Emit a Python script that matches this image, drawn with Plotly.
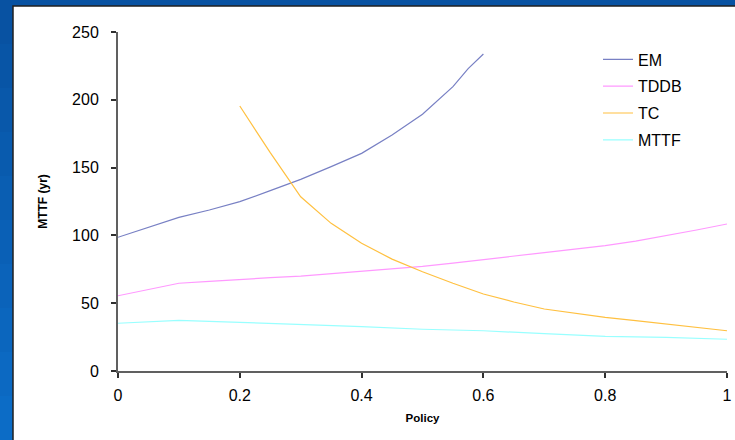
import plotly.graph_objects as go

policy = [0.0, 0.05, 0.1, 0.15, 0.2, 0.25, 0.3, 0.35, 0.4, 0.45, 0.5, 0.55, 0.6, 0.65, 0.7, 0.75, 0.8, 0.85, 0.9, 0.95, 1.0]

em_x = [0.0, 0.05, 0.1, 0.15, 0.2, 0.25, 0.3, 0.35, 0.4, 0.45, 0.5, 0.55, 0.575, 0.6]
em_y = [98.6, 106, 113.3, 118.7, 124.9, 133, 141.3, 150.7, 160.5, 174, 189.3, 209.7, 223, 233.8]

tddb_y = [55.5, 60.2, 64.7, 66.1, 67.6, 68.8, 70.0, 71.7, 73.5, 75.5, 77.2, 79.6, 82.0, 84.6, 87.3, 89.9, 92.4, 95.8, 99.8, 104.0, 108.4]

tc_x = [0.2, 0.25, 0.3, 0.35, 0.4, 0.45, 0.5, 0.55, 0.6, 0.65, 0.7, 0.75, 0.8, 0.85, 0.9, 0.95, 1.0]
tc_y = [195.4, 161, 128.5, 108.9, 94.2, 82.5, 73.2, 64.7, 56.8, 50.9, 45.7, 42.5, 39.6, 37.1, 34.7, 32.2, 29.7]

mttf_x = [0.0, 0.1, 0.2, 0.3, 0.4, 0.5, 0.6, 0.7, 0.8, 0.9, 1.0]
mttf_y = [35.2, 37.4, 35.9, 34.4, 32.7, 30.8, 29.7, 27.5, 25.5, 24.8, 23.4]

x_ticks = [0, 0.2, 0.4, 0.6, 0.8, 1]
x_tick_labels = ["0", "0.2", "0.4", "0.6", "0.8", "1"]
y_ticks = [0, 50, 100, 150, 200, 250]

FONT = "Liberation Sans, Arial, sans-serif"

fig = go.Figure()
fig.add_trace(go.Scatter(x=em_x, y=em_y, mode="lines", name="EM", legendgroup="a",
                         line=dict(color="#7880c4", width=1.2)))
fig.add_trace(go.Scatter(x=policy, y=tddb_y, mode="lines", name="TDDB", legendgroup="b",
                         line=dict(color="#ff99ff", width=1.2)))
fig.add_trace(go.Scatter(x=tc_x, y=tc_y, mode="lines", name="TC", legendgroup="c",
                         line=dict(color="#ffc040", width=1.2)))
fig.add_trace(go.Scatter(x=mttf_x, y=mttf_y, mode="lines", name="MTTF", legendgroup="d",
                         line=dict(color="#99ffff", width=1.2)))

W, H = 735, 440
L, R, T, B = 118, 8, 32, 69
pw, ph = W - L - R, H - T - B

def px(x):
    return (x - L) / pw

def py(y):
    return (H - B - y) / ph

# left strip with a stepped vertical gradient (dark top -> lighter bottom)
n = 10
c0 = (8, 82, 162)
c1 = (12, 108, 198)
for i in range(n):
    t = i / (n - 1)
    col = "rgb(%d,%d,%d)" % tuple(round(a + (b - a) * t) for a, b in zip(c0, c1))
    y0p = i * H / n
    fig.add_shape(type="rect", xref="paper", yref="paper",
                  x0=px(-5), x1=px(14), y0=py(y0p + H / n + 1), y1=py(y0p),
                  fillcolor=col, line=dict(width=0), layer="below")

fig.add_shape(type="rect", xref="paper", yref="paper",
              x0=px(13), x1=px(745), y0=py(450), y1=py(6),
              fillcolor="white", line=dict(color="#202020", width=1.5), layer="below")

fig.update_layout(
    width=W, height=H,
    margin=dict(l=L, r=R, t=T, b=B, autoexpand=False),
    paper_bgcolor="#0852a2",
    plot_bgcolor="white",
    font=dict(family=FONT, size=16, color="black"),
    showlegend=True,
    legend=dict(x=px(598), y=py(42.5), xanchor="left", yanchor="top",
                bgcolor="rgba(0,0,0,0)", traceorder="grouped", tracegroupgap=3,
                font=dict(size=16, family=FONT)),
    xaxis=dict(range=[0, 1], tickvals=x_ticks, ticktext=x_tick_labels,
               showgrid=False, zeroline=False, showline=True, linecolor="#606060", linewidth=2,
               ticks="outside", ticklen=5, tickcolor="#303030", tickwidth=1.5,
               ticklabelstandoff=4,
               title=dict(text="<b>Policy</b>", font=dict(size=11.5, family=FONT), standoff=11)),
    yaxis=dict(range=[0, 250], tickvals=y_ticks,
               showgrid=False, zeroline=False, showline=True, linecolor="#606060", linewidth=2,
               ticks="outside", ticklen=5, tickcolor="#303030", tickwidth=1.5,
               ticklabelstandoff=9,
               title=dict(text="<b>MTTF (yr)</b>", font=dict(size=12, family=FONT), standoff=22)),
)

fig.write_html("out.html", config={"displayModeBar": False},
               post_script="document.body.style.margin='0';document.body.style.overflow='hidden';")
